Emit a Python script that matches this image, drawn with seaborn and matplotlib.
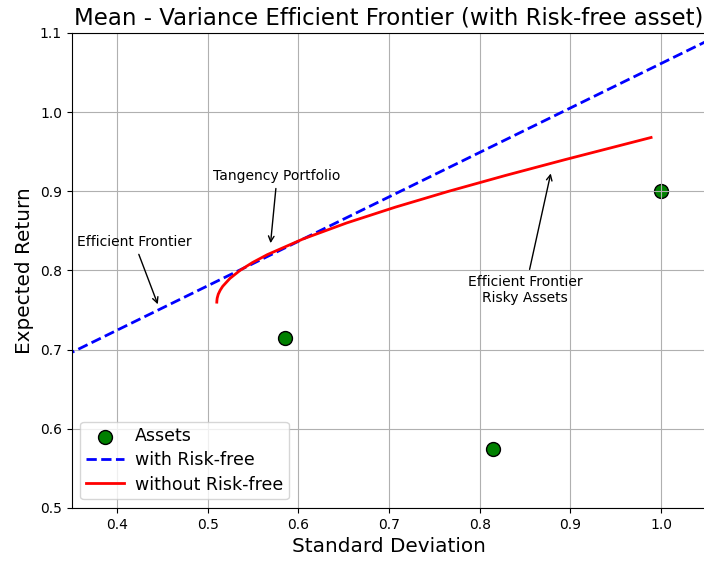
import matplotlib
matplotlib.use("Agg")
import matplotlib.pyplot as plt
import seaborn as sns

# Individual risky assets: (standard deviation, expected return)
asset_sigma = [0.585, 0.815, 1.0]
asset_mu = [0.715, 0.575, 0.9]

# Capital market line through the risk-free rate
cml_sigma = [0.0, 1.2]
cml_mu = [0.5, 1.1737]

# Upper branch of the risky-asset frontier, starting at the minimum-variance portfolio
frontier_sigma = [0.5100, 0.5101, 0.5104, 0.5116, 0.5137, 0.5165, 0.5245, 0.5355,
                  0.5493, 0.5657, 0.6055, 0.6531, 0.7069, 0.7656, 0.8283, 0.8940,
                  0.9449, 0.9890]
frontier_mu = [0.760, 0.762, 0.765, 0.770, 0.775, 0.780, 0.790, 0.800,
               0.810, 0.820, 0.840, 0.860, 0.880, 0.900, 0.920, 0.940,
               0.955, 0.968]

fig = plt.figure(figsize=(7.04, 5.61), dpi=100)
ax = fig.add_axes([0.1019, 0.0945, 0.9015, 0.8467])

sns.scatterplot(x=asset_sigma, y=asset_mu, color="green", s=100,
                edgecolor="black", linewidth=1, label="Assets", ax=ax, zorder=1)
sns.lineplot(x=cml_sigma, y=cml_mu, color="blue", linestyle="--", linewidth=2,
             label="with Risk-free", ax=ax)
sns.lineplot(x=frontier_sigma, y=frontier_mu, color="red", linewidth=2,
             sort=False, label="without Risk-free", ax=ax)

ax.set_xlim(0.35, 1.05)
ax.set_ylim(0.5, 1.1)
ax.grid(True)

arrow = dict(arrowstyle="->", color="black")
ax.annotate("Tangency Portfolio", xy=(0.569, 0.831), xytext=(0.5765, 0.9194),
            ha="center", va="center", fontsize=10, arrowprops=arrow)
ax.annotate("Efficient Frontier", xy=(0.446, 0.754), xytext=(0.4188, 0.836),
            ha="center", va="center", fontsize=10, arrowprops=arrow)
ax.annotate("Efficient Frontier\nRisky Assets", xy=(0.879, 0.926), xytext=(0.85, 0.7754),
            ha="center", va="center", fontsize=10, arrowprops=arrow)

ax.set_title("Mean - Variance Efficient Frontier (with Risk-free asset)", fontsize=16.5)
ax.set_xlabel("Standard Deviation", fontsize=14.4)
ax.set_ylabel("Expected Return", fontsize=14.4)
ax.legend(loc="lower left", fontsize=12.5, labelspacing=0.35, borderpad=0.33,
          handlelength=2.2, handletextpad=0.6)

fig.savefig("out.png", dpi=100)
